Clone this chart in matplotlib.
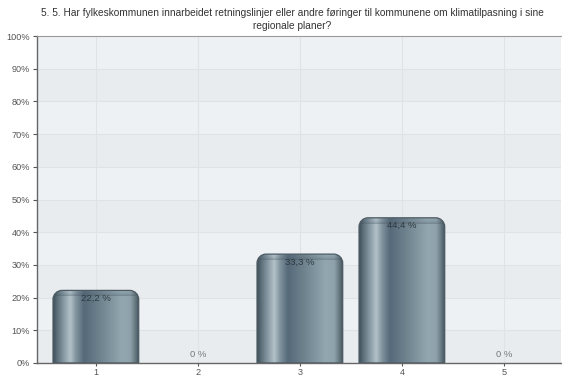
import numpy as np
import matplotlib
matplotlib.use("Agg")
import matplotlib.pyplot as plt
from matplotlib.path import Path
from matplotlib.patches import PathPatch
from matplotlib.colors import LinearSegmentedColormap

plt.rcParams['font.family'] = ['Liberation Sans', 'DejaVu Sans']

title = ("5. 5. Har fylkeskommunen innarbeidet retningslinjer eller andre føringer til kommunene om klimatilpasning i sine\n"
         "regionale planer?")
categories = [1, 2, 3, 4, 5]
values = [22.2, 0.0, 33.3, 44.4, 0.0]
value_labels = ["22,2 %", "0 %", "33,3 %", "44,4 %", "0 %"]
yticks = [0, 10, 20, 30, 40, 50, 60, 70, 80, 90, 100]
ytick_labels = [f"{v}%" for v in yticks]

fig = plt.figure(figsize=(5.62, 3.78), dpi=100)
ax = fig.add_axes([37 / 562, 15 / 378, 524 / 562, 327 / 378])
ax.set_xlim(0.423, 5.56)
ax.set_ylim(0, 100)

# alternating horizontal bands
ax.set_facecolor('#eef1f4')
for i in range(0, 10, 2):
    ax.axhspan(i * 10, i * 10 + 10, color='#e9ecef', zorder=0, lw=0)
for y in yticks[1:-1]:
    ax.axhline(y, color='#e0e3e6', lw=0.8, zorder=0.5)
for x in categories:
    ax.axvline(x, color='#e0e3e6', lw=0.8, zorder=0.5)

# horizontal shading across a bar (cylinder look)
shade = LinearSegmentedColormap.from_list('cyl', [
    (0.00, '#3f4f59'), (0.05, '#5d707b'), (0.13, '#8a9ca6'), (0.20, '#b3c2c9'),
    (0.27, '#7f929c'), (0.36, '#56697a'), (0.55, '#6f838e'), (0.80, '#93a7b1'),
    (0.90, '#8fa2ac'), (0.96, '#66787f'), (1.00, '#45545d')])

width = 0.84
px_x = (ax.get_xlim()[1] - ax.get_xlim()[0]) / 524
px_y = 100 / 327
rx, ry = 9 * px_x, 9 * px_y


def bar_path(x0, x1, top):
    k = 0.5523
    verts = [(x0, 0), (x0, top - ry),
             (x0, top - ry + k * ry), (x0 + rx - k * rx, top), (x0 + rx, top),
             (x1 - rx, top),
             (x1 - rx + k * rx, top), (x1, top - ry + k * ry), (x1, top - ry),
             (x1, 0), (x0, 0)]
    codes = [Path.MOVETO, Path.LINETO,
             Path.CURVE4, Path.CURVE4, Path.CURVE4,
             Path.LINETO,
             Path.CURVE4, Path.CURVE4, Path.CURVE4,
             Path.LINETO, Path.CLOSEPOLY]
    return Path(verts, codes)


grad = np.linspace(0, 1, 256).reshape(1, -1)
for x, v, lab in zip(categories, values, value_labels):
    if v > 0:
        x0, x1 = x - width / 2, x + width / 2
        path = bar_path(x0, x1, v)
        outline = PathPatch(path, facecolor='none', edgecolor='#4b5a63', lw=0.9, zorder=3)
        ax.add_patch(outline)
        im = ax.imshow(grad, extent=(x0, x1, 0, v), cmap=shade, aspect='auto',
                       interpolation='bicubic', zorder=2)
        im.set_clip_path(PathPatch(path, transform=ax.transData))
        # darker cap at the top of the bar
        cap = np.zeros((40, 1, 4))
        cap[..., :3] = np.array([0.25, 0.31, 0.35])
        cap[:, 0, 3] = np.linspace(0, 0.6, 40) ** 2
        imc = ax.imshow(cap, extent=(x0, x1, v - 6 * px_y, v), aspect='auto',
                        interpolation='bilinear', zorder=2.5)
        imc.set_clip_path(PathPatch(path, transform=ax.transData))
        ax.text(x, v - 3.5 * px_y, lab, ha='center', va='top', fontsize=6.8,
                color='#2f3a40', zorder=4)
    else:
        ax.text(x, 1.3, lab, ha='center', va='bottom', fontsize=6.8,
                color='#777777', zorder=4)

ax.set_xticks(categories)
ax.set_xticklabels([str(c) for c in categories])
ax.set_yticks(yticks)
ax.set_yticklabels(ytick_labels)
ax.tick_params(axis='both', labelsize=6.6, colors='#555555', length=3, width=0.8, pad=2)
ax.tick_params(axis='x', pad=1.2, length=2.5)

for side in ['left', 'bottom']:
    ax.spines[side].set_color('#666666')
    ax.spines[side].set_linewidth(1.0)
ax.spines['top'].set_color('#9a9a9a')
ax.spines['top'].set_linewidth(0.8)
ax.spines['right'].set_visible(False)

fig.text(0.52, 1 - 8 / 378, title, ha='center', va='top', fontsize=7.3,
         color='#333333', linespacing=1.35)

fig.savefig('out.png', dpi=100)
